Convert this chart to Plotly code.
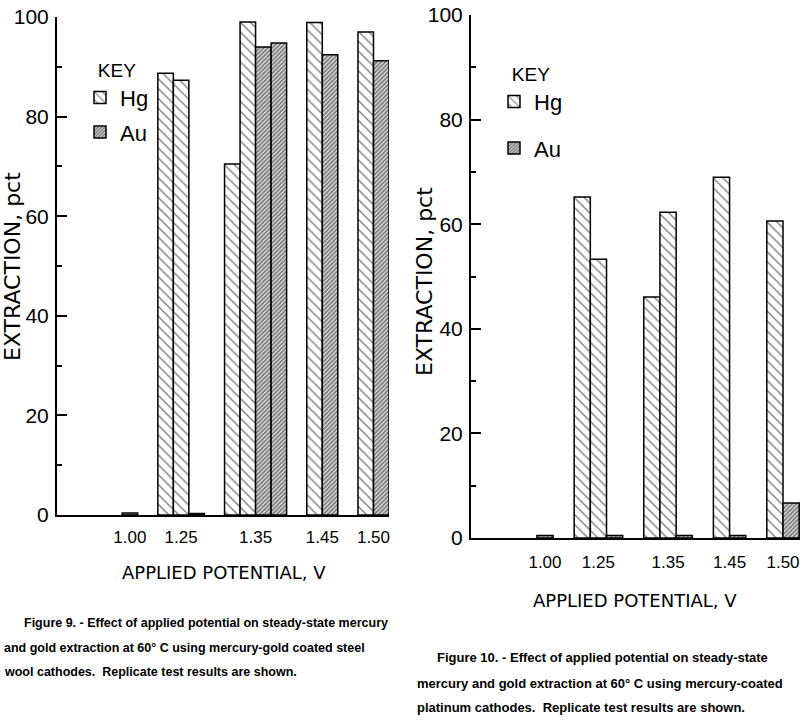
import plotly.graph_objects as go

# ---------------- data ----------------
potentials = ["1.00", "1.25", "1.35", "1.45", "1.50"]

# Figure 9 (mercury-gold coated steel wool cathodes), replicate results per potential
fig9_hg = [[], [88.7, 87.3], [70.5, 99.0], [98.9], [97.0]]
fig9_au = [[0.4], [0.3], [94.0, 94.8], [92.4], [91.2]]

# Figure 10 (mercury-coated platinum cathodes)
fig10_hg = [[], [65.2, 53.3], [46.1, 62.3], [69.0], [60.6]]
fig10_au = [[0.5], [0.5], [0.5], [0.5], [6.7]]

y_ticks = [0, 20, 40, 60, 80, 100]

y_title = "EXTRACTION, pct"
x_title = "APPLIED POTENTIAL, V"

caption9 = [
    "Figure 9. - Effect of applied potential on steady-state mercury",
    "and gold extraction at 60° C using mercury-gold coated steel",
    "wool cathodes.  Replicate test results are shown.",
]
caption10 = [
    "Figure 10. - Effect of applied potential on steady-state",
    "mercury and gold extraction at 60° C using mercury-coated",
    "platinum cathodes.  Replicate test results are shown.",
]

# ---------------- helpers ----------------
W, H = 800, 723
GROUP_GAP = 1.3


def px_x(p):
    return p / W


def px_y(p):
    return 1 - p / H


def place(hg, au):
    """Place bars side by side (width 1) inside each potential group."""
    x = 0.0
    hx, hy, ax, ay, centers = [], [], [], [], []
    for g_hg, g_au in zip(hg, au):
        start = x
        for v in g_hg:
            hx.append(x + 0.5)
            hy.append(v)
            x += 1
        for v in g_au:
            ax.append(x + 0.5)
            ay.append(v)
            x += 1
        centers.append((start + x) / 2)
        x += GROUP_GAP
    return hx, hy, ax, ay, centers, x - GROUP_GAP


SANS = "Liberation Sans, Arial, sans-serif"
PLAIN = "DejaVu Sans, Liberation Sans, sans-serif"

hg_pattern = dict(shape="\\", fgcolor="black", bgcolor="white", size=7, solidity=0.2)
au_pattern = dict(shape="/", fgcolor="black", bgcolor="white", size=3, solidity=0.7)

fig = go.Figure()

panels = [
    dict(hg=fig9_hg, au=fig9_au, xa="x", ya="y", legend="legend", lead=4.2),
    dict(hg=fig10_hg, au=fig10_au, xa="x2", ya="y2", legend="legend2", lead=4.07),
]

for k, p in enumerate(panels):
    hx, hy, ax, ay, centers, end = place(p["hg"], p["au"])
    p["centers"] = centers
    p["end"] = end
    fig.add_trace(go.Bar(
        x=hx, y=hy, width=1, name="Hg", xaxis=p["xa"], yaxis=p["ya"], legend=p["legend"],
        legendgroup=f"hg{k}",
        marker=dict(color="white", pattern=hg_pattern, line=dict(color="black", width=1.5)),
    ))
    fig.add_trace(go.Bar(
        x=ax, y=ay, width=1, name="Au", xaxis=p["xa"], yaxis=p["ya"], legend=p["legend"],
        legendgroup=f"au{k}",
        marker=dict(color="white", pattern=au_pattern, line=dict(color="black", width=1.5)),
    ))

axis_common = dict(
    showline=True, linecolor="black", linewidth=2, showgrid=False, zeroline=False,
    fixedrange=True, automargin=False,
)

y_common = dict(
    axis_common, range=[0, 100], tickvals=y_ticks, ticks="inside", ticklen=10, tickwidth=2,
    tickcolor="black", tickfont=dict(family=SANS, size=21, color="black"),
    minor=dict(dtick=10, ticks="inside", ticklen=5, tickwidth=2, tickcolor="black"),
    ticklabelstandoff=2,
)

x_tickfont = dict(family=SANS, size=17, color="black")

legend_common = dict(
    xanchor="left", yanchor="top", itemwidth=30, bgcolor="rgba(0,0,0,0)",
    title=dict(text="KEY", side="top center", font=dict(family=SANS, size=19, color="black")),
    font=dict(family=SANS, size=22, color="black"), traceorder="grouped",
)

fig.update_layout(
    width=W, height=H, margin=dict(l=0, r=0, t=0, b=0, autoexpand=False),
    paper_bgcolor="white", plot_bgcolor="white", barmode="overlay",
    xaxis=dict(axis_common, domain=[px_x(57), px_x(389)], anchor="y",
               range=[-panels[0]["lead"], panels[0]["end"]],
               tickvals=panels[0]["centers"], ticktext=potentials, ticks="",
               tickfont=x_tickfont, ticklabelstandoff=6),
    yaxis=dict(y_common, domain=[px_y(515), px_y(17)], anchor="x"),
    xaxis2=dict(axis_common, domain=[px_x(471), 1.0], anchor="y2",
                range=[-panels[1]["lead"], panels[1]["end"] + 0.05],
                tickvals=panels[1]["centers"], ticktext=potentials, ticks="",
                tickfont=x_tickfont, ticklabelstandoff=8),
    yaxis2=dict(y_common, domain=[px_y(538), px_y(15)], anchor="x2"),
    legend=dict(legend_common, x=px_x(80), y=px_y(52), tracegroupgap=3),
    legend2=dict(legend_common, x=px_x(494), y=px_y(56), tracegroupgap=15),
    showlegend=True,
)

# axis titles
ytf = dict(family=PLAIN, size=22, color="black")
xtf = dict(family=PLAIN, size=18, color="black")
fig.add_annotation(text=y_title, xref="paper", yref="paper", x=px_x(12), y=px_y(267),
                   textangle=-90, showarrow=False, font=ytf, xanchor="center", yanchor="middle")
fig.add_annotation(text=y_title, xref="paper", yref="paper", x=px_x(425), y=px_y(282),
                   textangle=-90, showarrow=False, font=ytf, xanchor="center", yanchor="middle")
fig.add_annotation(text=x_title, xref="paper", yref="paper", x=px_x(224), y=px_y(572),
                   showarrow=False, font=xtf, xanchor="center", yanchor="middle")
fig.add_annotation(text=x_title, xref="paper", yref="paper", x=px_x(635), y=px_y(600),
                   showarrow=False, font=xtf, xanchor="center", yanchor="middle")

cap_font = dict(family=SANS, size=12.5, color="black", weight="bold")
cap_font_r = dict(family=SANS, size=13, color="black", weight="bold")
for line, xpx, ypx in zip(caption9, [22, 2, 2], [623, 648, 672]):
    fig.add_annotation(text=line, xref="paper", yref="paper", x=px_x(xpx), y=px_y(ypx),
                       xanchor="left", yanchor="middle", showarrow=False, font=cap_font)
for line, xpx, ypx in zip(caption10, [435, 415, 415], [657, 683, 707]):
    fig.add_annotation(text=line, xref="paper", yref="paper", x=px_x(xpx), y=px_y(ypx),
                       xanchor="left", yanchor="middle", showarrow=False, font=cap_font_r)

fig.write_html("out.html", config={"displayModeBar": False},
               post_script="document.body.style.margin='0px';")
